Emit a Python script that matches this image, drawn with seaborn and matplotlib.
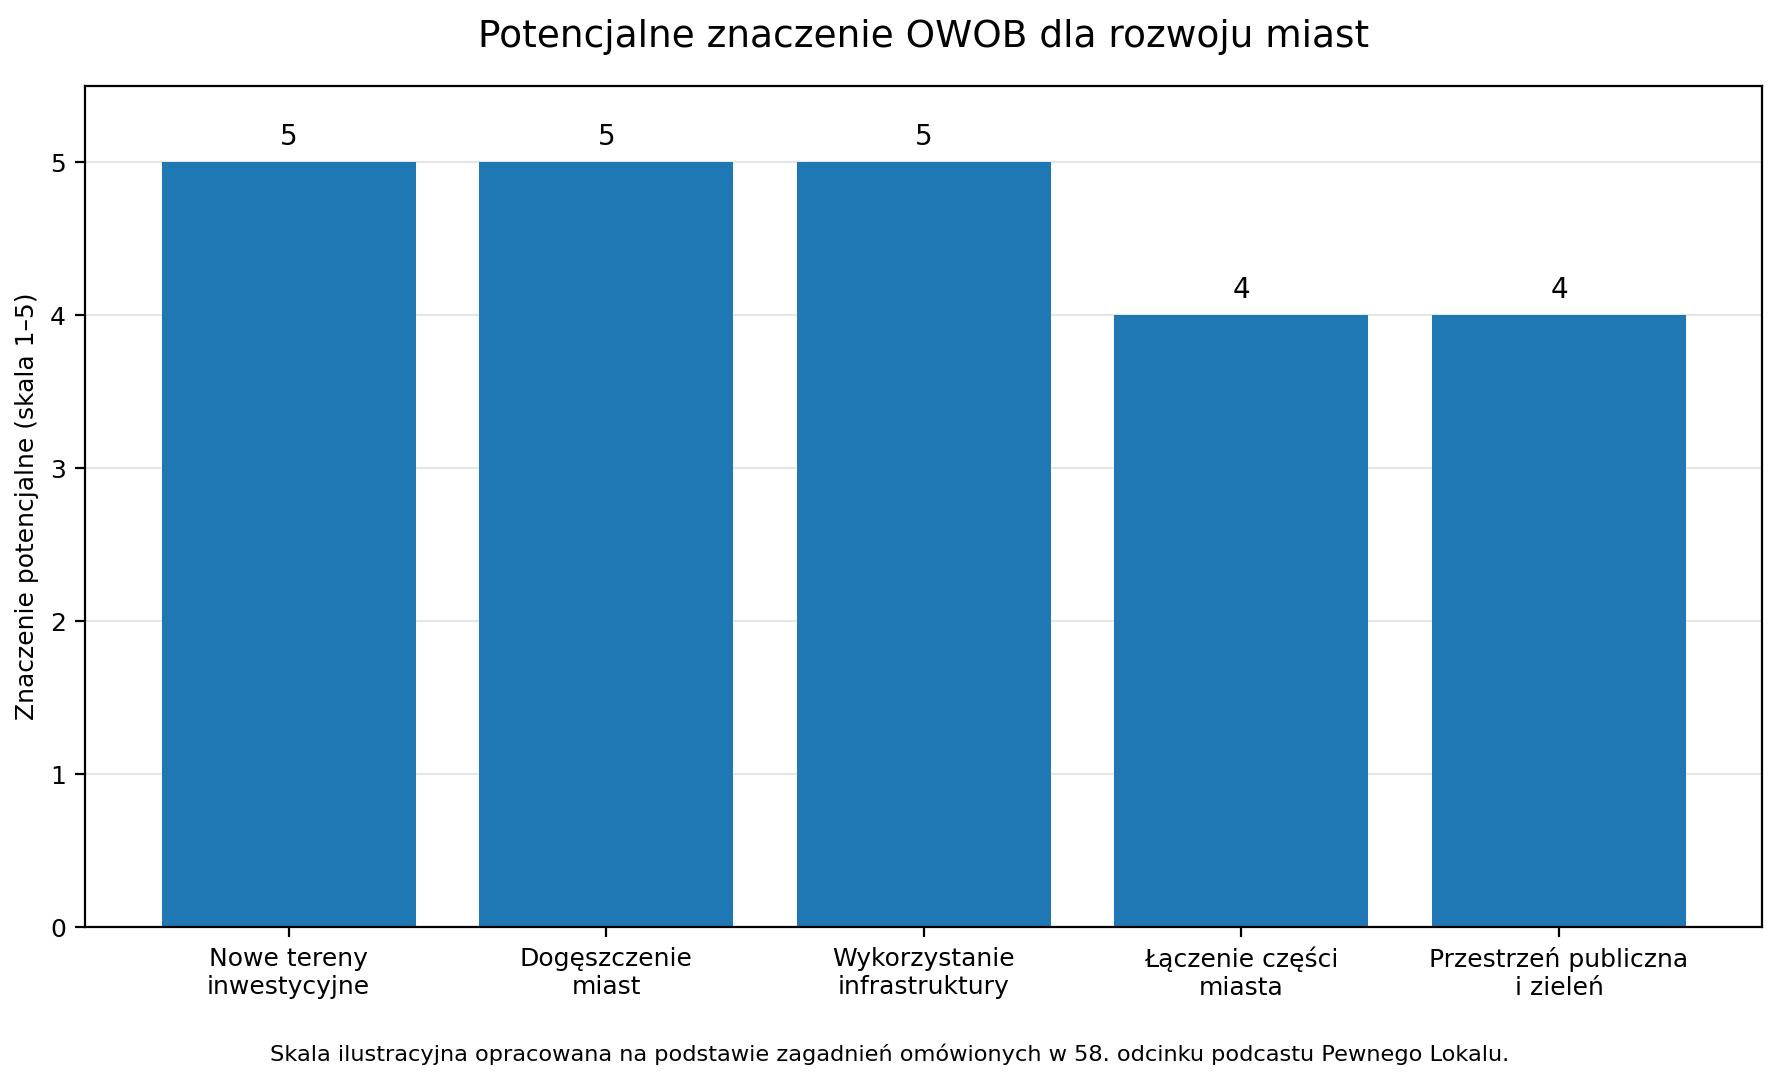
import numpy as np
import pandas as pd
import matplotlib
matplotlib.use('Agg')
import matplotlib.pyplot as plt
import seaborn as sns

# dane
kategorie = ['Nowe tereny\ninwestycyjne', 'Dogęszczenie\nmiast', 'Wykorzystanie\ninfrastruktury',
             'Łączenie części\nmiasta', 'Przestrzeń publiczna\ni zieleń']
wartosci = [5, 5, 5, 4, 4]

df = pd.DataFrame({'kategoria': kategorie, 'wartosc': wartosci})

sns.set_style('white')
plt.rcParams['font.family'] = ['DejaVu Sans']
plt.rcParams['text.color'] = 'black'
plt.rcParams['axes.labelcolor'] = 'black'
plt.rcParams['xtick.color'] = 'black'
plt.rcParams['ytick.color'] = 'black'

fig, ax = plt.subplots(figsize=(8.9, 5.41), dpi=200)
sns.barplot(data=df, x='kategoria', y='wartosc', color='#1f77b4', saturation=1, width=0.8,
            linewidth=0, ax=ax, zorder=2)

for i, v in enumerate(wartosci):
    ax.annotate(str(v), (i, v), xytext=(0, 4), textcoords='offset points',
                ha='center', va='bottom', fontsize=10)

ax.set_xlim(-0.64, 4.64)
ax.set_ylim(0, 5.5)
ax.set_yticks([0, 1, 2, 3, 4, 5])
ax.yaxis.grid(True, color='#e6e6e6', lw=0.8, zorder=0)
ax.set_axisbelow(True)
for s in ax.spines.values():
    s.set_color('black')
    s.set_linewidth(0.8)
ax.tick_params(axis='both', labelsize=9, length=3.5, width=0.8, bottom=True, left=True)
ax.set_xlabel('')
ax.set_ylabel('Znaczenie potencjalne (skala 1–5)', fontsize=9)
ax.set_title('Potencjalne znaczenie OWOB dla rozwoju miast', fontsize=13.5, pad=14)

fig.text(0.5, 0.026, 'Skala ilustracyjna opracowana na podstawie zagadnień omówionych w 58. odcinku podcastu Pewnego Lokalu.',
         ha='center', va='center', fontsize=8.1)

plt.subplots_adjust(left=0.048, right=0.990, top=0.9205, bottom=0.143)
plt.savefig('out.png', dpi=200)
